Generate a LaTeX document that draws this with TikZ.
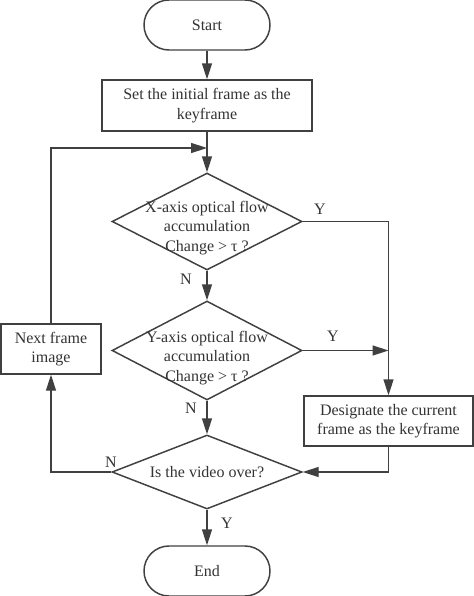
\documentclass[tikz,border=0pt]{standalone}
\usepackage{fontspec}
\setmainfont{Liberation Serif}
\usetikzlibrary{shapes.geometric,arrows.meta}
\begin{document}
\begin{tikzpicture}[x=0.75pt,y=-0.75pt,
  line width=1.1pt,
  every node/.style={font=\fontsize{12}{14.6}\selectfont, text=black!80},
  term/.style={draw, rounded corners=18.75pt, minimum width=94.5pt, minimum height=37.5pt},
  box/.style={draw, align=center, inner sep=0pt},
  dia/.style={draw, diamond, inner sep=0pt},
  txt/.style={align=center, inner sep=0pt},
  arr/.style={-{Triangle[length=12pt,width=7.5pt]}}]
\definecolor{ln}{HTML}{404040}
\useasboundingbox (0,0) rectangle (474,596);
\begin{scope}[color=ln]
% boxes
\node[term] (start) at (207,25) {Start};
\node[box, minimum width=157.5pt, minimum height=38.25pt] (set) at (207,105.5) {Set the initial frame as the\\keyframe};
\node[dia, minimum width=142.5pt, minimum height=72.75pt] (d1) at (207,221.5) {};
\node[txt] (t1) at (207,228) {X-axis optical flow\\accumulation\\Change > τ ?};
\node[dia, minimum width=142.5pt, minimum height=74.25pt] (d2) at (207,350.5) {};
\node[txt] (t2) at (207,358) {Y-axis optical flow\\accumulation\\Change > τ ?};
\node[box, minimum width=75pt, minimum height=37.5pt] (next) at (51,349) {Next frame\\image};
\node[box, minimum width=126.75pt, minimum height=37.5pt] (des) at (388.5,421) {Designate the current\\frame as the keyframe};
\node[dia, minimum width=142.5pt, minimum height=55.5pt] (d3) at (207,472) {};
\node[txt] (t3) at (207,472) {Is the video over?};
\node[term] (end) at (207,571) {End};
\coordinate (j1) at (207,148);
% connectors
\draw[arr] (start) -- (set);
\draw[arr] (set) -- (d1);
\draw[arr] (next.north) |- (j1);
\draw[arr] (d1.east) -| (des.north);
\draw[arr] (d1.south) -- (d2.north);
\draw[arr] (d2.east) -- (des.north |- d2.east);
\draw[arr] (d2.south) -- (d3.north);
\draw[arr] (des.south) |- (d3.east);
\draw[arr] (d3.west) -| (next.south);
\draw[arr] (d3.south) -- (end.north);
% labels
\node (y1) at (320,209) {Y};
\node (n1) at (186,279) {N};
\node (y2) at (333,336) {Y};
\node (n2) at (191,408) {N};
\node (n3) at (111,462) {N};
\node (y3) at (227,523) {Y};
\end{scope}
\end{tikzpicture}
\end{document}
